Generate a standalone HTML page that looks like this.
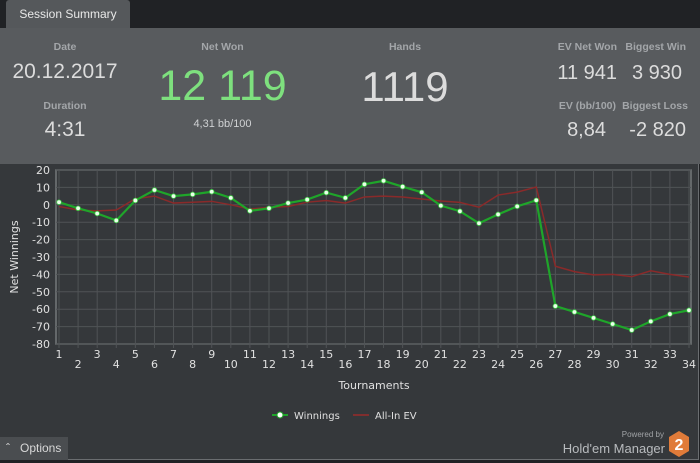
<!DOCTYPE html>
<html><head><meta charset="utf-8">
<style>
*{margin:0;padding:0;box-sizing:border-box}
body{width:700px;height:463px;background:#202225;font-family:"Liberation Sans",sans-serif;position:relative;overflow:hidden}
.abs{position:absolute}
.lbl{color:#a3a6a9;font-size:10.5px;font-weight:bold;white-space:nowrap}
.val{color:#dcdcdc;white-space:nowrap}
</style></head><body>
<div class="abs" style="left:6px;top:0;width:124px;height:29px;background:#55585b;border-radius:3px 3px 0 0;color:#e8e8e8;font-size:12px;line-height:28px;text-align:center">Session Summary</div>
<div class="abs" style="left:0;top:28px;width:700px;height:136px;background:#585b5e">
  <div class="abs lbl" style="left:0;width:130px;top:13px;text-align:center">Date</div>
  <div class="abs val" style="left:0;width:130px;top:32px;text-align:center;font-size:21px">20.12.2017</div>
  <div class="abs lbl" style="left:0;width:130px;top:72px;text-align:center">Duration</div>
  <div class="abs val" style="left:0;width:130px;top:90px;text-align:center;font-size:21px">4:31</div>
  <div class="abs lbl" style="left:160px;width:125px;top:13px;text-align:center">Net Won</div>
  <div class="abs" style="left:150px;width:145px;top:34px;text-align:center;font-size:43px;color:#7ee07e;white-space:nowrap">12 119</div>
  <div class="abs" style="left:160px;width:125px;top:90px;text-align:center;font-size:11px;color:#cfd1d3">4,31 bb/100</div>
  <div class="abs lbl" style="left:355px;width:100px;top:13px;text-align:center">Hands</div>
  <div class="abs val" style="left:345px;width:120px;top:35px;text-align:center;font-size:42px">1119</div>
  <div class="abs lbl" style="right:83px;top:13px;text-align:right">EV Net Won</div>
  <div class="abs val" style="right:83px;top:34px;text-align:right;font-size:20px">11 941</div>
  <div class="abs lbl" style="right:14px;top:13px;text-align:right">Biggest Win</div>
  <div class="abs val" style="right:18px;top:34px;text-align:right;font-size:20px">3 930</div>
  <div class="abs lbl" style="right:84px;top:72px;text-align:right">EV (bb/100)</div>
  <div class="abs val" style="right:94px;top:91px;text-align:right;font-size:20px">8,84</div>
  <div class="abs lbl" style="right:12px;top:72px;text-align:right">Biggest Loss</div>
  <div class="abs val" style="right:14px;top:91px;text-align:right;font-size:20px">-2 820</div>
</div>
<div class="abs" style="left:0;top:164px;width:699px;height:296px;background:#35383b;border-right:1px solid #6a6d70;border-bottom:1px solid #6a6d70"></div>
<svg class="abs" id="chart" style="left:0;top:0" width="700" height="463" xmlns="http://www.w3.org/2000/svg"></svg>
<div class="abs" style="left:0;top:437px;width:68px;height:23px;background:#4a4d50;color:#d8d8d8;font-size:12px;line-height:23px;padding-left:6px">&#710;&nbsp;&nbsp;&nbsp;Options</div>
<div class="abs" style="right:36px;top:430px;font-size:8px;color:#a0a3a6">Powered by</div>
<div class="abs" style="right:35px;top:441px;font-size:13px;color:#b8bbbe">Hold'em Manager</div>
<svg class="abs" style="left:669px;top:431px" width="20" height="26"><polygon points="10,0 20,6 20,20 10,26 0,20 0,6" fill="#e07b39"/><text x="10" y="19" font-size="16" font-weight="bold" fill="#fff" text-anchor="middle" font-family="Liberation Sans">2</text></svg>
<script>
const categories=[1,2,3,4,5,6,7,8,9,10,11,12,13,14,15,16,17,18,19,20,21,22,23,24,25,26,27,28,29,30,31,32,33,34];
const winnings=[1.5,-2,-5,-9,2.5,8.5,5,6,7.5,4,-3.5,-2,1,3,7,4,11.8,13.8,10.4,7.2,-0.5,-3.7,-10.6,-5.5,-0.9,2.6,-58.2,-61.6,-65,-68.5,-72,-67,-62.8,-60.6];
const allInEV=[-1,-3,-3.5,-3,3.5,5,1,1.5,2,0,-2.5,-1.5,-1,1.5,2.5,1,4.5,5,4.5,3.3,2.2,1.4,-1.4,5.6,7.3,10.2,-35.3,-38.4,-40.3,-40,-41.3,-37.9,-40,-41.5];
const yTicks=[20,10,0,-10,-20,-30,-40,-50,-60,-70,-80];
const svg=document.getElementById('chart');
const NS='http://www.w3.org/2000/svg';
const L=56,R=691,T=170,B=344;
const xS=i=>59+(i-1)*(689-59)/33;
const yS=v=>T+(20-v)*(B-T)/100;
function mk(tag,at){const e=document.createElementNS(NS,tag);for(const k in at)e.setAttribute(k,at[k]);svg.appendChild(e);return e;}
let bg=mk('rect',{x:L,y:T,width:R-L,height:B-T,fill:'#35383b',stroke:'#75787b','stroke-width':1.5});


yTicks.forEach(v=>{
  const g=mk('line',{x1:L,x2:R,y1:yS(v),y2:yS(v),stroke:'#505356','stroke-width':1});
  
  
  const t=mk('text',{x:L-6,y:yS(v)+4,'text-anchor':'end','font-size':11,fill:'#e0e0e0','font-family':'DejaVu Sans'});
  t.textContent=v;
  
  
});
categories.forEach(c=>{
  const x=xS(c);
  const g=mk('line',{x1:x,x2:x,y1:T,y2:B+4,stroke:'#505356','stroke-width':1});
  
  
  const t=mk('text',{x:x,y:c%2?358:368,'text-anchor':'middle','font-size':11,fill:'#e0e0e0','font-family':'DejaVu Sans'});
  t.textContent=c;
  
  
});
let yt=mk('text',{x:0,y:0,transform:'translate(18,257) rotate(-90)','text-anchor':'middle','font-size':11,fill:'#e0e0e0','font-family':'DejaVu Sans'});
yt.textContent='Net Winnings';


let xt=mk('text',{x:374,y:389,'text-anchor':'middle','font-size':11,fill:'#e0e0e0','font-family':'DejaVu Sans'});
xt.textContent='Tournaments';


let ev=mk('polyline',{points:allInEV.map((v,i)=>xS(categories[i])+','+yS(v)).join(' '),fill:'none',stroke:'#8a2a2a','stroke-width':1.5});


let wl=mk('polyline',{points:winnings.map((v,i)=>xS(categories[i])+','+yS(v)).join(' '),fill:'none',stroke:'#1fa52a','stroke-width':2.2});


winnings.forEach((v,i)=>{
  const p=mk('circle',{cx:xS(categories[i]),cy:yS(v),r:2.3,fill:'#eaffea',stroke:'#3cc844','stroke-width':0.8});
  
  
});
let l1=mk('line',{x1:272,x2:288,y1:415,y2:415,stroke:'#1fa52a','stroke-width':2});


let lc=mk('circle',{cx:280,cy:415,r:3,fill:'#fff',stroke:'#1fa52a'});


let lt1=mk('text',{x:294,y:419,'font-size':10,fill:'#e0e0e0','font-family':'DejaVu Sans'});
lt1.textContent='Winnings';


let l2=mk('line',{x1:353,x2:369,y1:415,y2:415,stroke:'#9a2a2a','stroke-width':1.5});


let lt2=mk('text',{x:375,y:419,'font-size':10,fill:'#e0e0e0','font-family':'DejaVu Sans'});
lt2.textContent='All-In EV';


</script>
</body></html>
